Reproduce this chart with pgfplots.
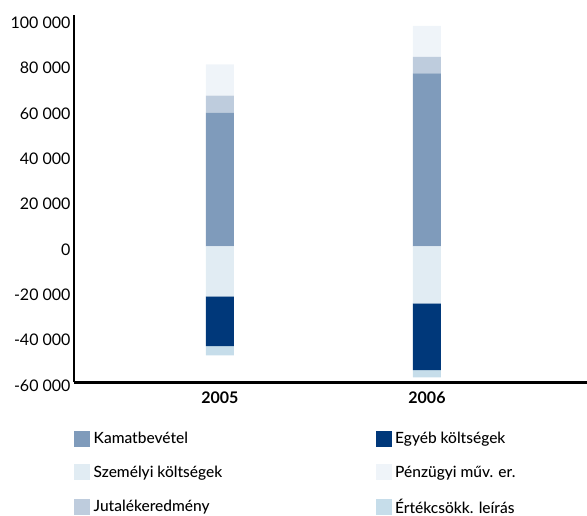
\documentclass[border=0pt]{standalone}
\usepackage{pgfplots}
\pgfplotsset{compat=1.18}
\usepackage{fontspec}
\setmainfont{Lato}
\newfontfamily\legfont{Lato Medium}
\definecolor{kamat}{HTML}{7F9BBB}
\definecolor{szem}{HTML}{E1ECF3}
\definecolor{jutal}{HTML}{BECCDD}
\definecolor{egyeb}{HTML}{00387A}
\definecolor{penz}{HTML}{EFF4F9}
\definecolor{ertek}{HTML}{C6DDEA}
\pgfplotsset{
  base/.style={
    scale only axis, width=513pt, height=367.5pt,
    xmin=-0.705, xmax=1.773, ymin=-60000, ymax=102000,
    ybar stacked, bar width=28pt, clip=false,
  }
}
\begin{document}
\begin{tikzpicture}
\useasboundingbox (-74pt,-133.5pt) rectangle (513pt,382.5pt);
\begin{axis}[base,
  axis x line*=bottom, axis y line*=left,
  axis line style={line width=2.3pt},
  xtick={0,1}, xticklabels={2005,2006},
  major tick length=0pt,
  x tick label style={font=\fontsize{16}{16}\selectfont\bfseries, yshift=-6pt},
  ytick={-60000,-40000,-20000,0,20000,40000,60000,80000,100000},
  yticklabels={-60 000,-40 000,-20 000,0,20 000,40 000,60 000,80 000,100 000},
  scaled y ticks=false,
  y tick label style={font=\fontsize{16}{16}\selectfont, yshift=-3pt},
]
\addplot[fill=kamat, draw=none] coordinates {(0,59000) (1,76300)};
\addplot[fill=jutal, draw=none] coordinates {(0,7500) (1,7200)};
\addplot[fill=penz, draw=none] coordinates {(0,13700) (1,13700)};
\end{axis}
\begin{axis}[base, hide axis,
  legend columns=2,
  legend image code/.code={\fill[#1, draw=none] (0pt,-8pt) rectangle (16pt,8pt);},
  legend cell align=left,
  legend style={at={(rel axis cs:0,0)}, anchor=north west, yshift=-47.5pt,
    draw=none, fill=none, inner sep=0pt, row sep=16.5pt,
    font=\fontsize{15.5}{15.5}\legfont\selectfont,
    nodes={inner xsep=3.5pt},
    /tikz/every even column/.append style={column sep=150pt}},
]
\addplot[fill=szem, draw=none, forget plot] coordinates {(0,-22000) (1,-25100)};
\addplot[fill=egyeb, draw=none, forget plot] coordinates {(0,-22000) (1,-29500)};
\addplot[fill=ertek, draw=none, forget plot] coordinates {(0,-4000) (1,-3100)};
\addlegendimage{fill=kamat}\addlegendentry{Kamatbevétel}
\addlegendimage{fill=egyeb}\addlegendentry{Egyéb költségek}
\addlegendimage{fill=szem}\addlegendentry{Személyi költségek}
\addlegendimage{fill=penz}\addlegendentry{Pénzügyi műv. er.}
\addlegendimage{fill=jutal}\addlegendentry{Jutalékeredmény}
\addlegendimage{fill=ertek}\addlegendentry{Értékcsökk. leírás}
\end{axis}
\end{tikzpicture}
\end{document}
